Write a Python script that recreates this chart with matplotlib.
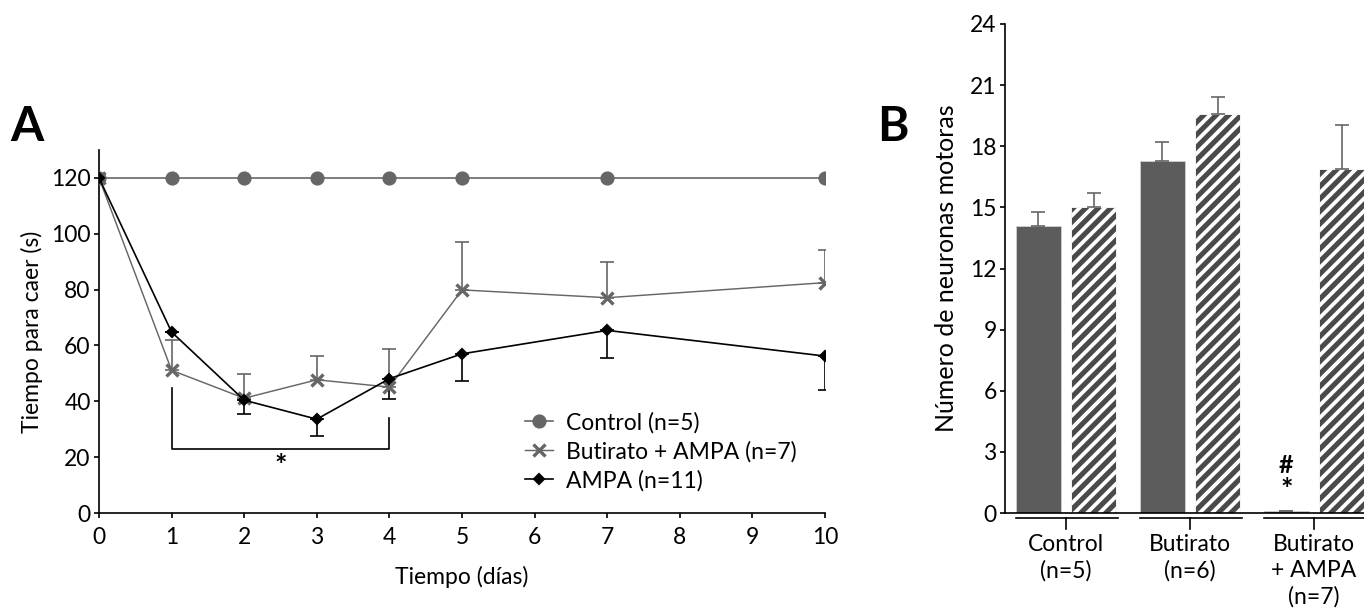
import numpy as np
import matplotlib
matplotlib.use('Agg')
import matplotlib.pyplot as plt

plt.rcParams['font.family'] = ['Lato', 'DejaVu Sans']
plt.rcParams['font.size'] = 11
plt.rcParams['hatch.color'] = 'white'
plt.rcParams['hatch.linewidth'] = 1.8

# ---- panel A data: time to fall on rotarod
dias = [0, 1, 2, 3, 4, 5, 7, 10]
control = [120, 120, 120, 120, 120, 120, 120, 120]
but_ampa = [120, 51.1, 41.1, 47.7, 45.1, 79.9, 77.1, 82.5]
but_ampa_err = [0, 10.7, 8.8, 8.7, 13.7, 17.0, 12.7, 11.8]
ampa = [120, 64.8, 40.4, 33.6, 48.1, 57.0, 65.4, 56.2]
ampa_err = [0, 0, 5.1, 6.0, 7.1, 9.9, 9.9, 12.0]

# ---- panel B data: motor neuron count
grupos = ['Control\n(n=5)', 'Butirato\n(n=6)', 'Butirato\n+ AMPA\n(n=7)']
solido = [14.1, 17.26, 0.12]
solido_err = [0.66, 0.94, 0.0]
rayado = [15.03, 19.58, 16.88]
rayado_err = [0.67, 0.84, 2.16]

GRAY = '#666666'
W, H, DPI = 1364, 608, 150

fig = plt.figure(figsize=(W / DPI, H / DPI), dpi=DPI)

def px_box(left, right, top, bottom):
    return [left / W, 1 - bottom / H, (right - left) / W, (bottom - top) / H]

# ================= A =================
axA = fig.add_axes(px_box(99, 825, 150, 513))
axA.errorbar(dias, but_ampa, yerr=[np.zeros(len(dias)), but_ampa_err], fmt='none',
             ecolor=GRAY, elinewidth=0.8, capsize=3.2, capthick=0.8, zorder=2)
axA.errorbar(dias, ampa, yerr=[ampa_err, np.zeros(len(dias))], fmt='none',
             ecolor='black', elinewidth=0.8, capsize=3.2, capthick=0.8, zorder=2)
axA.plot(dias, control, color=GRAY, lw=0.8, marker='o', ms=5.8, mfc=GRAY, mec=GRAY,
         label='Control (n=5)', zorder=3)
axA.plot(dias, but_ampa, color=GRAY, lw=0.7, marker='x', ms=6.2, mew=1.6, mec=GRAY,
         label='Butirato + AMPA (n=7)', zorder=3)
axA.plot(dias, ampa, color='black', lw=0.8, marker='D', ms=3.6, mfc='black', mec='black',
         label='AMPA (n=11)', zorder=4)

# significance bracket days 1-4
axA.plot([1, 1, 4, 4], [44.6, 22.8, 22.8, 34.0], color='black', lw=0.8)
axA.text(2.5, 17.0, '*', ha='center', va='center', fontsize=14, fontweight='bold')

axA.set_xlim(0, 10)
axA.set_ylim(0, 130)
axA.set_xticks(range(0, 11))
axA.set_yticks(range(0, 121, 20))
for s in ['top', 'right']:
    axA.spines[s].set_visible(False)
for s in ['left', 'bottom']:
    axA.spines[s].set_linewidth(0.8)
axA.tick_params(axis='both', length=2.5, width=0.8, pad=1.5)
axA.tick_params(axis='x', pad=4)
axA.set_xlabel('Tiempo (días)', labelpad=9)
axA.set_ylabel('Tiempo para caer (s)', labelpad=4)

axA.legend(loc='upper left', bbox_to_anchor=(525 / W, 1 - 412 / H),
           bbox_transform=fig.transFigure, frameon=False, borderpad=0,
           borderaxespad=0, handlelength=1.2, handletextpad=0.6, labelspacing=0.32)

fig.text(10 / W, 1 - 127 / H, 'A', fontsize=23, fontweight='bold', va='center', ha='left')

# ================= B =================
axB = fig.add_axes(px_box(1005, 1364, 24, 513))
x = np.arange(len(grupos))
off, bw = 0.224, 0.363
axB.bar(x - off, solido, bw, color='#5c5c5c', edgecolor='#cfcfcf', linewidth=0.4,
        yerr=[np.zeros(3), solido_err], error_kw=dict(ecolor=GRAY, elinewidth=0.8,
        capsize=3.2, capthick=0.8), zorder=2)
axB.bar(x + off, rayado, bw, color='#4a4a4a', edgecolor='white', hatch='////', linewidth=0.4,
        yerr=[np.zeros(3), rayado_err], error_kw=dict(ecolor=GRAY, elinewidth=0.8,
        capsize=3.2, capthick=0.8), zorder=2)

axB.text(x[2] - off, 2.35, '#', ha='center', va='center', fontsize=12, fontweight='bold')
axB.text(x[2] - off, 1.15, '*', ha='center', va='center', fontsize=14, fontweight='bold')

axB.set_xlim(-0.492, 2.403)
axB.set_ylim(0, 24)
axB.set_yticks(range(0, 25, 3))
axB.set_xticks(x)
axB.set_xticklabels(grupos, linespacing=1.3)
axB.tick_params(axis='x', length=0, pad=10)
axB.tick_params(axis='y', length=2.5, width=0.8, pad=1.5)
for s in ['top', 'right']:
    axB.spines[s].set_visible(False)
for s in ['left', 'bottom']:
    axB.spines[s].set_linewidth(0.8)

# group brackets under the x axis
trans = axB.get_xaxis_transform()
hp = 1 / (513 - 24)
for xi in x:
    axB.plot([xi - off - bw / 2, xi + off + bw / 2 + 0.01], [-5 * hp, -5 * hp],
             color='black', lw=0.8, transform=trans, clip_on=False)
    axB.plot([xi, xi], [-5 * hp, -16 * hp], color='black', lw=0.8,
             transform=trans, clip_on=False)

axB.set_ylabel('Número de neuronas motoras', fontsize=12, labelpad=6)
fig.text(877 / W, 1 - 127 / H, 'B', fontsize=23, fontweight='bold', va='center', ha='left')

fig.savefig('out.png', dpi=DPI)
